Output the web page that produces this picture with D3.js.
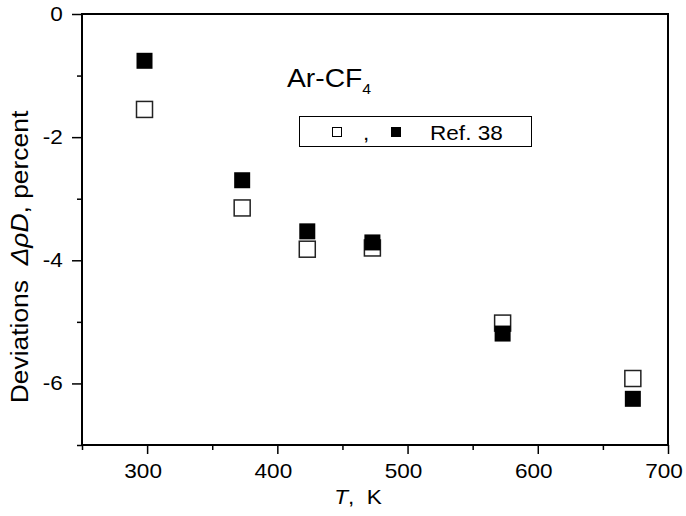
<!DOCTYPE html>
<html>
<head>
<meta charset="utf-8">
<script src="https://cdn.jsdelivr.net/npm/d3@7"></script>
<style>
  body { margin: 0; background: #fff; }
  svg text { font-family: "Liberation Sans", Arial, sans-serif; fill: #000; white-space: pre; }
</style>
</head>
<body>
<svg id="chart" width="686" height="516"></svg>
<script>
// Data (temperatures in K, deviations in percent)
var temps = [298, 373, 423, 473, 573, 673];
var devOpen = [-1.55, -3.15, -3.82, -3.80, -5.02, -5.92];
var devFilled = [-0.76, -2.70, -3.53, -3.71, -5.19, -6.25];

var xTicks = [250, 300, 350, 400, 450, 500, 550, 600, 650, 700];
var yTicks = [-7, -6, -5, -4, -3, -2, -1, 0];

// Set dimensions
var width = 686,
    height = 516,
    sx = 1.13; // type in the figure is a bit wider than Arial

var svg = d3.select("#chart");

var x = d3.scaleLinear()
    .domain([250, 700])
    .range([82, 668]);

var y = d3.scaleLinear()
    .domain([-7, 0])
    .range([445, 14]);

// Frame
svg.append("rect")
    .attr("x", x(250))
    .attr("y", y(0))
    .attr("width", x(700) - x(250))
    .attr("height", y(-7) - y(0))
    .attr("fill", "none")
    .attr("stroke", "#000")
    .attr("stroke-width", 2);

// Bottom axis
var xAxis = svg.append("g")
    .attr("transform", "translate(0," + y(-7) + ")")
    .call(d3.axisBottom(x)
        .tickValues(xTicks)
        .tickSize(9)
        .tickPadding(10)
        .tickFormat(function(d) { return d % 100 === 0 ? d : ""; }));

xAxis.select(".domain").remove();
xAxis.selectAll(".tick line")
    .attr("stroke", "#000")
    .attr("stroke-width", 1.5)
    .attr("y2", function(d) { return d % 100 === 0 ? 9 : 5; });
// labels in the figure sit a few pixels left of their ticks
xAxis.selectAll(".tick text")
    .style("font-size", "20px")
    .attr("x", -4.5 / sx)
    .attr("transform", "scale(" + sx + ",1)");

// Left axis
var yAxis = svg.append("g")
    .attr("transform", "translate(" + x(250) + ",0)")
    .call(d3.axisLeft(y)
        .tickValues(yTicks)
        .tickSize(10)
        .tickPadding(7)
        .tickFormat(function(d) { return d % 2 === 0 ? d : ""; }));

yAxis.select(".domain").remove();
yAxis.selectAll(".tick line")
    .attr("stroke", "#000")
    .attr("stroke-width", 1.5)
    .attr("x2", function(d) { return d % 2 === 0 ? -10 : -5; });
yAxis.selectAll(".tick text")
    .style("font-size", "20px")
    .attr("transform", "scale(" + sx + ",1)");

// Axis titles
var xTitle = svg.append("text")
    .attr("transform", "translate(358,504) scale(" + sx + ",1)")
    .attr("text-anchor", "middle")
    .style("font-size", "20px");
xTitle.append("tspan").style("font-style", "italic").text("T");
xTitle.append("tspan").text(",  K");

var yTitle = svg.append("text")
    .attr("transform", "translate(28,257) rotate(-90) scale(1.1,1)")
    .attr("text-anchor", "middle")
    .style("font-size", "24px");
yTitle.append("tspan").text("Deviations  ");
yTitle.append("tspan").style("font-style", "italic").text("\u0394\u03c1D");
yTitle.append("tspan").text(", percent");

// Markers
var size = 16;

svg.append("g")
    .selectAll("rect")
    .data(temps)
    .enter()
    .append("rect")
    .attr("x", function(d) { return x(d) - size / 2; })
    .attr("y", function(d, i) { return y(devOpen[i]) - size / 2; })
    .attr("width", size)
    .attr("height", size)
    .attr("fill", "#fff")
    .attr("stroke", "#222")
    .attr("stroke-width", 1.5);

svg.append("g")
    .selectAll("rect")
    .data(temps)
    .enter()
    .append("rect")
    .attr("x", function(d) { return x(d) - size / 2; })
    .attr("y", function(d, i) { return y(devFilled[i]) - size / 2; })
    .attr("width", size)
    .attr("height", size)
    .attr("fill", "#000");

// Mixture label
var label = svg.append("text")
    .attr("transform", "translate(287,87) scale(" + sx + ",1)")
    .style("font-size", "25px");
label.append("tspan").text("Ar-CF");
label.append("tspan")
    .attr("dy", 7)
    .style("font-size", "14px")
    .text("4");

// Legend
var legend = svg.append("g");

legend.append("rect")
    .attr("x", 299.5)
    .attr("y", 116.5)
    .attr("width", 232)
    .attr("height", 30)
    .attr("fill", "#fff")
    .attr("stroke", "#000")
    .attr("stroke-width", 1);

legend.append("rect")
    .attr("x", 332.5)
    .attr("y", 127.5)
    .attr("width", 9)
    .attr("height", 9)
    .attr("fill", "#fff")
    .attr("stroke", "#000")
    .attr("stroke-width", 1);

legend.append("text")
    .attr("transform", "translate(363,140) scale(" + sx + ",1)")
    .style("font-size", "20px")
    .text(",");

legend.append("rect")
    .attr("x", 391)
    .attr("y", 127)
    .attr("width", 10)
    .attr("height", 10)
    .attr("fill", "#000");

legend.append("text")
    .attr("transform", "translate(430,140) scale(" + sx + ",1)")
    .style("font-size", "20px")
    .text("Ref. 38");
</script>
</body>
</html>
